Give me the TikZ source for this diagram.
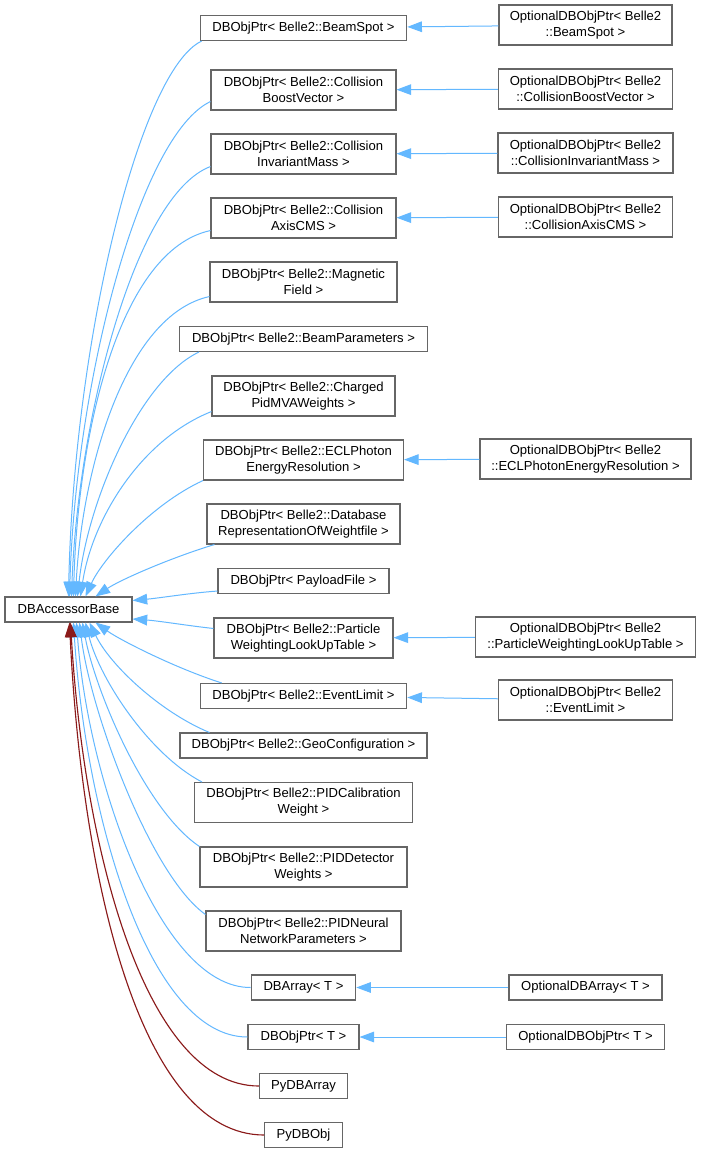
\documentclass[tikz,border=0pt]{standalone}
\usepackage{fontspec}
\setmainfont{Liberation Sans}
\usetikzlibrary{arrows.meta}
\definecolor{edgeblue}{HTML}{63B8FF}
\definecolor{edgered}{HTML}{8B1A1A}
\definecolor{boxgray}{HTML}{666666}
\begin{document}
\begin{tikzpicture}[x=0.75pt,y=-0.75pt,
  cls/.style={draw=boxgray, fill=white, line width=0.8pt, inner sep=0pt, align=center,
    font=\fontsize{9.8}{12}\selectfont, minimum height=18.75pt},
  two/.style={minimum height=30pt},
  inh/.style={draw=edgeblue, line width=0.75pt, -{Triangle[length=11pt,width=8pt]}},
  inr/.style={draw=edgered, line width=0.85pt, -{Triangle[length=11pt,width=8pt]}}]
\useasboundingbox (0,0) rectangle (701,1154);
\fill[white] (0,0) rectangle (701,1154);
% base
\node[cls, minimum width=95.25pt] (base) at (68.5,609.5) {DBAccessorBase};
% left column
\node[cls, minimum width=154.9pt] (bs) at (303.5,28) {DBObjPtr< Belle2::BeamSpot >};
\node[cls, two, minimum width=138.75pt] (cbv) at (303.5,90) {DBObjPtr< Belle2::Collision\\BoostVector >};
\node[cls, two, minimum width=138.75pt] (cim) at (303.5,154) {DBObjPtr< Belle2::Collision\\InvariantMass >};
\node[cls, two, minimum width=138.75pt] (cac) at (303.5,218) {DBObjPtr< Belle2::Collision\\AxisCMS >};
\node[cls, two, minimum width=140.25pt] (mf) at (303.5,282) {DBObjPtr< Belle2::Magnetic\\Field >};
\node[cls, minimum width=186pt] (bp) at (303.5,339) {DBObjPtr< Belle2::BeamParameters >};
\node[cls, two, minimum width=137.25pt] (cp) at (303.5,396) {DBObjPtr< Belle2::Charged\\PidMVAWeights >};
\node[cls, two, minimum width=150pt] (ecl) at (303.5,460) {DBObjPtr< Belle2::ECLPhoton\\EnergyResolution >};
\node[cls, two, minimum width=144.75pt] (dr) at (303.5,524) {DBObjPtr< Belle2::Database\\RepresentationOfWeightfile >};
\node[cls, minimum width=128.25pt] (pf) at (303.5,581) {DBObjPtr< PayloadFile >};
\node[cls, two, minimum width=134.25pt] (pw) at (303.5,638) {DBObjPtr< Belle2::Particle\\WeightingLookUpTable >};
\node[cls, minimum width=154.9pt] (el) at (303.5,696) {DBObjPtr< Belle2::EventLimit >};
\node[cls, minimum width=185.25pt] (gc) at (303.5,745.5) {DBObjPtr< Belle2::GeoConfiguration >};
\node[cls, two, minimum width=163.5pt] (pidc) at (303.5,802.5) {DBObjPtr< Belle2::PIDCalibration\\Weight >};
\node[cls, two, minimum width=155.25pt] (pidd) at (303.5,867) {DBObjPtr< Belle2::PIDDetector\\Weights >};
\node[cls, two, minimum width=146.25pt] (pidn) at (303.5,931) {DBObjPtr< Belle2::PIDNeural\\NetworkParameters >};
\node[cls, minimum width=78.4pt] (dba) at (303.5,987.5) {DBArray< T >};
\node[cls, minimum width=83.25pt] (dbo) at (303.5,1037) {DBObjPtr< T >};
\node[cls, minimum width=66pt] (pya) at (303.5,1086) {PyDBArray};
\node[cls, minimum width=58.2pt] (pyo) at (303.5,1135) {PyDBObj};
% right column
\node[cls, two, minimum width=129.75pt] (obs) at (585.5,25) {OptionalDBObjPtr< Belle2\\::BeamSpot >};
\node[cls, two, minimum width=130.5pt] (ocbv) at (585.5,89) {OptionalDBObjPtr< Belle2\\::CollisionBoostVector >};
\node[cls, two, minimum width=131.25pt] (ocim) at (585.5,153) {OptionalDBObjPtr< Belle2\\::CollisionInvariantMass >};
\node[cls, two, minimum width=130.5pt] (ocac) at (585.5,217) {OptionalDBObjPtr< Belle2\\::CollisionAxisCMS >};
\node[cls, two, minimum width=158.25pt] (oecl) at (585.5,459) {OptionalDBObjPtr< Belle2\\::ECLPhotonEnergyResolution >};
\node[cls, two, minimum width=165pt] (opw) at (585.5,637) {OptionalDBObjPtr< Belle2\\::ParticleWeightingLookUpTable >};
\node[cls, two, minimum width=130.5pt] (oel) at (585.5,700) {OptionalDBObjPtr< Belle2\\::EventLimit >};
\node[cls, minimum width=114.75pt] (odba) at (585.5,987.5) {OptionalDBArray< T >};
\node[cls, minimum width=118.9pt] (odbo) at (585.5,1037) {OptionalDBObjPtr< T >};
% horizontal edges
\draw[inh] (obs) -- (bs);
\draw[inh] (ocbv) -- (cbv);
\draw[inh] (ocim) -- (cim);
\draw[inh] (ocac) -- (cac);
\draw[inh] (oecl) -- (ecl);
\draw[inh] (opw) -- (pw);
\draw[inh] (oel) -- (el);
\draw[inh] (odba) -- (dba);
\draw[inh] (odbo) -- (dbo);
% edges to the base, top side
\draw[inh] ([xshift=1.5pt]bs.south west) .. controls (140,70) and (74,340) .. ([xshift=48pt]base.north west);
\draw[inh] ([yshift=6.75pt]cbv.south west) .. controls (140,135) and (76,380) .. ([xshift=48.75pt]base.north west);
\draw[inh] ([yshift=6pt]cim.south west) .. controls (135,195) and (78,420) .. ([xshift=50.25pt]base.north west);
\draw[inh] ([yshift=6pt]cac.south west) .. controls (120,250) and (78,430) .. ([xshift=51.75pt]base.north west);
\draw[inh] ([yshift=4.5pt]mf.south west) .. controls (125,315) and (82,470) .. ([xshift=53.25pt]base.north west);
\draw[inh] ([xshift=15pt]bp.south west) .. controls (140,380) and (88,500) .. ([xshift=54.75pt]base.north west);
\draw[inh] ([yshift=3.75pt]cp.south west) .. controls (140,440) and (92,520) .. ([xshift=57pt]base.north west);
\draw[inh] (ecl.south west) .. controls (150,505) and (102,560) .. ([xshift=60.75pt]base.north west);
\draw[inh] ([xshift=6pt]dr.south west) .. controls (170,558) and (120,580) .. ([xshift=68.25pt]base.north west);
\draw[inh] ([yshift=2.25pt]pf.south west) .. controls (190,593) and (160,598) .. ([yshift=-3pt]base.north east);
\draw[inh] ([yshift=-8.25pt]pw.north west) .. controls (190,626) and (160,621) .. ([yshift=-7.1pt]base.east);
% edges to the base, bottom side
\draw[inh] ([xshift=16.5pt]el.north west) .. controls (175,668) and (120,640) .. ([xshift=68.25pt]base.south west);
\draw[inh] ([xshift=22.5pt]gc.north west) .. controls (160,712) and (110,665) .. ([xshift=63.75pt]base.south west);
\draw[inh] ([xshift=6pt]pidc.north west) .. controls (150,755) and (100,680) .. ([xshift=60.75pt]base.south west);
\draw[inh] (pidd.north west) .. controls (145,810) and (95,690) .. ([xshift=58.5pt]base.south west);
\draw[inh] ([yshift=-3pt]pidn.north west) .. controls (150,875) and (90,710) .. ([xshift=56.25pt]base.south west);
\draw[inh] (dba.west) .. controls (160,988) and (88,780) .. ([xshift=54pt]base.south west);
\draw[inh] (dbo.west) .. controls (150,1037) and (86,820) .. ([xshift=51.75pt]base.south west);
\draw[inr] (pya.west) .. controls (145,1086) and (84,850) .. ([xshift=49.5pt]base.south west);
\draw[inr] (pyo.west) .. controls (140,1135) and (82,880) .. ([xshift=48.75pt]base.south west);
\end{tikzpicture}
\end{document}
